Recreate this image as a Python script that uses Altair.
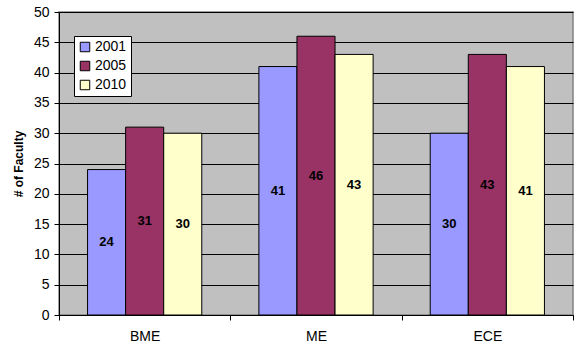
import altair as alt
import pandas as pd

depts = ["BME", "ME", "ECE"]
years = ["2001", "2005", "2010"]
v2001 = [24, 41, 30]
v2005 = [31, 46, 43]
v2010 = [30, 43, 41]
colors = ["#9999FF", "#993366", "#FFFFCC"]
y_ticks = [0, 5, 10, 15, 20, 25, 30, 35, 40, 45, 50]

rows = []
for series, yr in zip([v2001, v2005, v2010], years):
    for d, v in zip(depts, series):
        rows.append({"dept": d, "year": yr, "value": v})
df = pd.DataFrame(rows)

FONT = "Liberation Sans"

yaxis = alt.Axis(
    title="# of Faculty", values=y_ticks, grid=True, labelOverlap=False,
    gridColor="black", gridWidth=1, domainColor="black", tickColor="black",
    tickSize=5, labelFontSize=14, labelColor="black", labelPadding=5,
    titleFontSize=12, titleFontWeight="bold", titleColor="black", titlePadding=8,
)
yscale = alt.Scale(domain=[0, 50], nice=False)

base = alt.Chart(df).transform_calculate(half="datum.value / 2").encode(
    x=alt.X(
        "dept:N",
        sort=depts,
        scale=alt.Scale(paddingInner=0, paddingOuter=0),
        axis=alt.Axis(
            title=None, labelAngle=0, tickBand="extent", grid=False,
            domainColor="black", tickColor="black", tickSize=5,
            labelFontSize=14, labelPadding=9, labelColor="black",
        ),
    ),
    xOffset=alt.XOffset("year:N", sort=years,
                        scale=alt.Scale(paddingInner=0, paddingOuter=0.75)),
)

bars = base.mark_bar(stroke="black", strokeWidth=1).encode(
    y=alt.Y("value:Q", scale=yscale, axis=yaxis),
    color=alt.Color(
        "year:N", sort=years,
        scale=alt.Scale(domain=years, range=colors),
        legend=alt.Legend(
            title=None, orient="none", legendX=15, legendY=24,
            symbolType="square", symbolSize=90, symbolStrokeColor="black",
            symbolStrokeWidth=1, labelFontSize=14, labelColor="black",
            fillColor="white", strokeColor="black", padding=4, rowPadding=5,
            labelOffset=3,
        ),
    ),
)

text = base.mark_text(fontWeight="bold", fontSize=13, color="black").encode(
    y=alt.Y("half:Q", scale=yscale, axis=yaxis),
    text=alt.Text("value:Q"),
)

chart = (bars + text).properties(
    width=514, height=303,
    autosize=alt.AutoSizeParams(type="none"),
    padding={"left": 59, "top": 12, "right": 7, "bottom": 30},
).configure(font=FONT).configure_view(fill="#C0C0C0", stroke="#808080", strokeWidth=1.5)

chart.save("out.html", embed_options={"renderer": "svg", "actions": False})
